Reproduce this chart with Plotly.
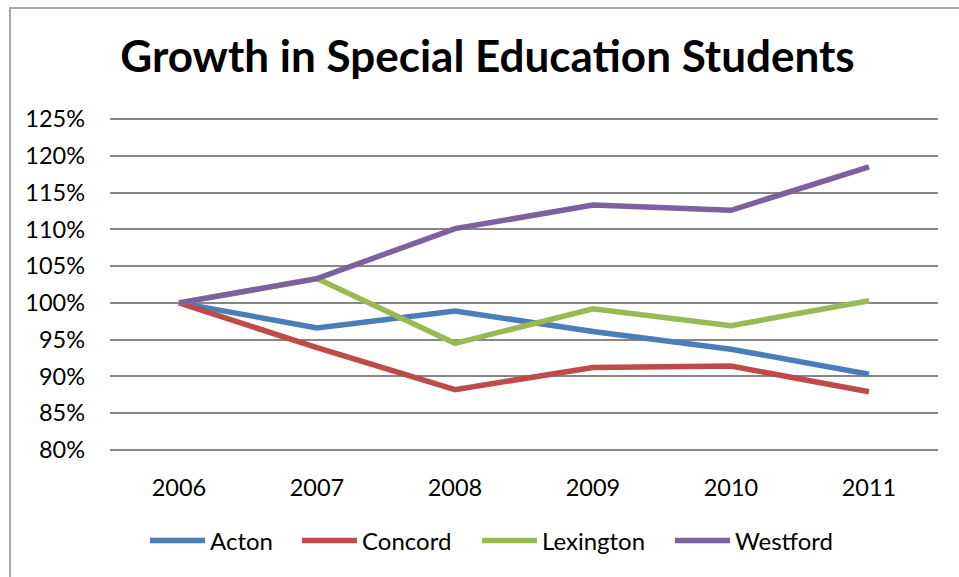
import plotly.graph_objects as go

# Enrollment index relative to 2006 (percent)
years = ["2006", "2007", "2008", "2009", "2010", "2011"]
acton = [100.0, 96.6, 98.9, 96.1, 93.7, 90.3]
concord = [100.0, 93.9, 88.2, 91.2, 91.4, 87.9]
lexington = [100.0, 103.3, 94.5, 99.2, 96.9, 100.3]
westford = [100.0, 103.3, 110.1, 113.3, 112.6, 118.5]

series = [
    ("Acton", acton, "#4A7EBB"),
    ("Concord", concord, "#BE4B48"),
    ("Lexington", lexington, "#98B954"),
    ("Westford", westford, "#7D60A0"),
]

W, H = 959, 577
L, R, T, B = 110, 21, 118, 126
Y_MIN, Y_MAX = 79.85, 125.15

font_family = "Lato, 'Open Sans', sans-serif"

pw, ph = W - L - R, H - T - B
def px_x(p):
    return (p - L) / pw
def px_y(p):
    return (H - B - p) / ph

# left pixel where each legend entry begins
legend_left = [150, 302, 482, 675]
legend_ids = ["legend", "legend2", "legend3", "legend4"]

fig = go.Figure()
for (name, vals, color), lid in zip(series, legend_ids):
    fig.add_trace(go.Scatter(
        x=years, y=vals, name=name, mode="lines",
        line=dict(color=color, width=5.5),
        legend=lid,
    ))

# chart frame (left and top edges visible)
fig.add_shape(type="rect", xref="paper", yref="paper",
              x0=px_x(10), x1=px_x(W + 10), y0=px_y(H + 10), y1=px_y(8),
              line=dict(color="#A6A6A6", width=2), fillcolor="rgba(0,0,0,0)",
              layer="below")

legend_style = dict(
    orientation="h", xanchor="left", xref="paper",
    y=px_y(541), yanchor="middle", yref="paper",
    font=dict(family=font_family, size=24, color="black"),
    itemwidth=55, bgcolor="rgba(0,0,0,0)", borderwidth=0,
)
legends = {}
for lid, left in zip(legend_ids, legend_left):
    legends[lid] = dict(legend_style, x=px_x(left - 5))

fig.update_layout(
    width=W, height=H,
    margin=dict(l=L, r=R, t=T, b=B),
    paper_bgcolor="white", plot_bgcolor="white",
    font=dict(family=font_family, size=23.5, color="black"),
    title=dict(
        text="<b>Growth in Special Education Students</b>",
        x=487.5 / W, xanchor="center", xref="container",
        y=1 - 57 / H, yanchor="middle", yref="container",
        font=dict(family=font_family, size=44, color="black"),
    ),
    showlegend=True,
    xaxis=dict(
        type="category", range=[-0.5, 5.5],
        showgrid=False, showline=False, zeroline=False,
        ticks="", ticklabelstandoff=20,
    ),
    yaxis=dict(
        range=[Y_MIN, Y_MAX], tick0=80, dtick=5, ticksuffix="%",
        showgrid=True, gridcolor="#878787", gridwidth=2,
        showline=False, zeroline=False, ticks="",
        ticklabelstandoff=24,
    ),
    **legends,
)

fig.write_html("out.html")
